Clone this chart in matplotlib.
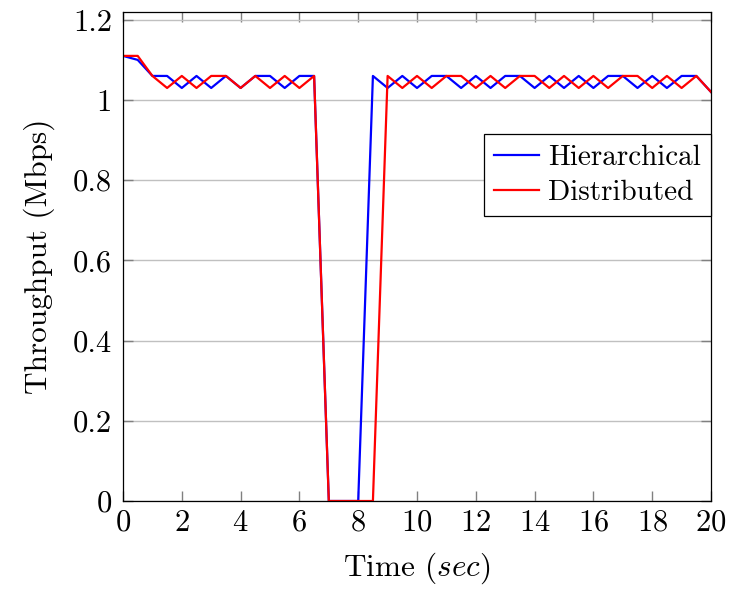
import matplotlib
matplotlib.use("Agg")
import matplotlib.pyplot as plt
from matplotlib.ticker import FormatStrFormatter

time_s = [0, 0.5, 1, 1.5, 2, 2.5, 3, 3.5, 4, 4.5, 5, 5.5, 6, 6.5, 7, 7.5, 8, 8.5, 9, 9.5,
          10, 10.5, 11, 11.5, 12, 12.5, 13, 13.5, 14, 14.5, 15, 15.5, 16, 16.5, 17, 17.5,
          18, 18.5, 19, 19.5, 20]
hierarchical = [1.11, 1.10, 1.06, 1.06, 1.03, 1.06, 1.03, 1.06, 1.03, 1.06, 1.06, 1.03,
                1.06, 1.06, 0, 0, 0, 1.06, 1.03, 1.06, 1.03, 1.06, 1.06, 1.03, 1.06, 1.03,
                1.06, 1.06, 1.03, 1.06, 1.03, 1.06, 1.03, 1.06, 1.06, 1.03, 1.06, 1.03,
                1.06, 1.06, 1.02]
distributed = [1.11, 1.11, 1.06, 1.03, 1.06, 1.03, 1.06, 1.06, 1.03, 1.06, 1.03, 1.06,
               1.03, 1.06, 0, 0, 0, 0, 1.06, 1.03, 1.06, 1.03, 1.06, 1.06, 1.03, 1.06,
               1.03, 1.06, 1.06, 1.03, 1.06, 1.03, 1.06, 1.03, 1.06, 1.06, 1.03, 1.06,
               1.03, 1.06, 1.02]
x_ticks = [0, 2, 4, 6, 8, 10, 12, 14, 16, 18, 20]
y_ticks = [0, 0.2, 0.4, 0.6, 0.8, 1.0, 1.2]

plt.rcParams.update(
    {
        "font.family": "serif",
        "font.serif": ["cmr10"],  # computer modern, like the LaTeX original
        "mathtext.fontset": "cm",
        "axes.formatter.use_mathtext": True,
        "font.size": 21,
    }
)

fig = plt.figure(figsize=(7.3, 5.89), dpi=100)
ax = fig.add_axes([0.1685, 0.1494, 0.8055, 0.8306])

ax.plot(time_s, hierarchical, color="blue", lw=1.6, label="Hierarchical")
ax.plot(time_s, distributed, color="red", lw=1.6, label="Distributed")

ax.set_xlim(0, 20)
ax.set_ylim(0, 1.22)
ax.set_xticks(x_ticks)
ax.set_yticks(y_ticks)
ax.yaxis.set_major_formatter(FormatStrFormatter("%g"))
ax.grid(True, axis="y", color="#c0c0c0", lw=1.0)
ax.set_axisbelow(True)
ax.tick_params(direction="in", top=True, right=True, length=7, width=1.0,
               color="#808080", labelsize=22)
ax.tick_params(axis="x", pad=6)
ax.tick_params(axis="y", pad=8)
for s in ax.spines.values():
    s.set_linewidth(0.9)
    s.set_color("black")

ax.set_xlabel("Time ($sec$)", fontsize=22.5, labelpad=10)
ax.set_ylabel("Throughput (Mbps)", fontsize=22.5, labelpad=13)

leg = ax.legend(loc="upper right", bbox_to_anchor=(1.0, 0.75), borderaxespad=0,
                fancybox=False, edgecolor="black", framealpha=1, fontsize=21,
                handlelength=1.55, handletextpad=0.3, borderpad=0.35, labelspacing=0.3)
leg.get_frame().set_linewidth(0.9)

fig.savefig("out.png", dpi=100)
